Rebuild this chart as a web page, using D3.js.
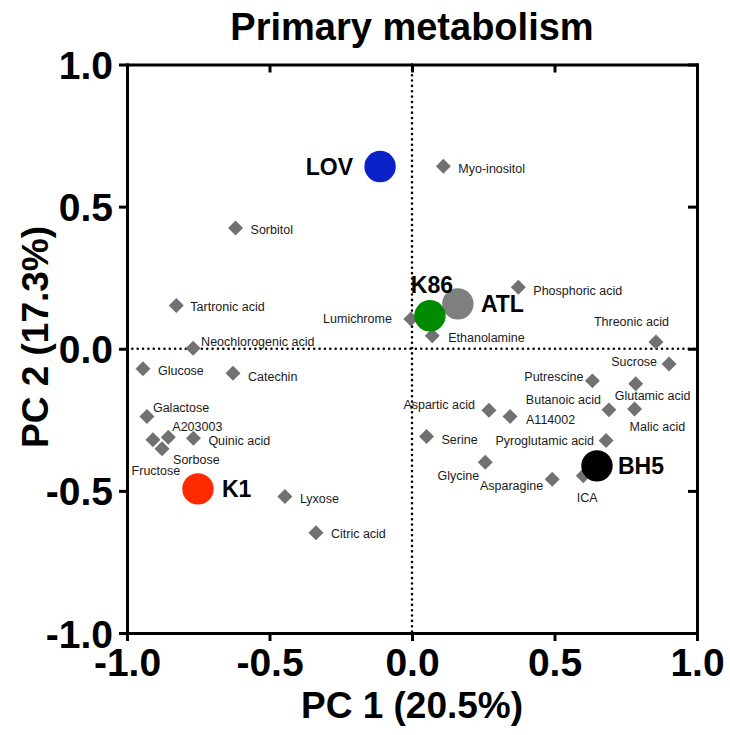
<!DOCTYPE html>
<html><head><meta charset="utf-8">
<script src="https://cdn.jsdelivr.net/npm/d3@7"></script>
<style>body{margin:0;background:#fff} svg{display:block}</style>
</head><body>
<script>
const titleText = "Primary metabolism";
const xAxisTitle = "PC 1 (20.5%)";
const yAxisTitle = "PC 2 (17.3%)";
const tickValues = [-1, -0.5, 0, 0.5, 1];
const tickLabels = ["-1.0", "-0.5", "0.0", "0.5", "1.0"];

const metaboliteNames = ["Myo-inositol","Sorbitol","Tartronic acid","Lumichrome","Ethanolamine","Neochlorogenic acid","Glucose","Catechin","Phosphoric acid","Threonic acid","Sucrose","Putrescine","Glutamic acid","Butanoic acid","Malic acid","Aspartic acid","A114002","Serine","Pyroglutamic acid","Glycine","Asparagine","ICA","Galactose","A203003","Fructose","Sorbose","Quinic acid","Lyxose","Citric acid"];
const metaboliteX = [0.110,-0.619,-0.827,-0.004,0.071,-0.768,-0.944,-0.628,0.373,0.856,0.902,0.633,0.785,0.691,0.781,0.270,0.344,0.051,0.681,0.257,0.492,0.601,-0.930,-0.855,-0.909,-0.877,-0.767,-0.446,-0.337];
const metaboliteY = [0.642,0.425,0.152,0.105,0.046,0.002,-0.070,-0.086,0.216,0.024,-0.054,-0.113,-0.123,-0.215,-0.212,-0.216,-0.238,-0.309,-0.323,-0.399,-0.459,-0.447,-0.238,-0.311,-0.320,-0.352,-0.315,-0.520,-0.647];

const sampleNames = ["LOV","ATL","K86","BH5","K1"];
const sampleX = [-0.112, 0.161, 0.063, 0.649, -0.751];
const sampleY = [0.641, 0.158, 0.116, -0.412, -0.493];
const sampleColors = ["#0A22C8", "#7f7f7f", "#008A00", "#000000", "#FF2A00"];

// label placement (layout only): [anchor, dx, dy]
const metaboliteLabelLayout = {
  "Myo-inositol":["start",15,2], "Sorbitol":["start",15,2], "Tartronic acid":["start",14,1],
  "Lumichrome":["end",-19,0], "Ethanolamine":["start",16,2], "Neochlorogenic acid":["start",8,-7],
  "Glucose":["start",15,2], "Catechin":["start",15,3], "Phosphoric acid":["start",15,3],
  "Threonic acid":["end",13,-20], "Sucrose":["end",-12,-3], "Putrescine":["end",-9,-4],
  "Glutamic acid":["start",-21,12], "Butanoic acid":["end",-8,-10], "Malic acid":["start",-5,17],
  "Aspartic acid":["end",-14,-6], "A114002":["start",16,3], "Serine":["start",15,3],
  "Pyroglutamic acid":["end",-12,0], "Glycine":["end",-6,13], "Asparagine":["end",-9,6],
  "ICA":["middle",4,22], "Galactose":["start",6,-9], "A203003":["start",4,-11],
  "Fructose":["middle",3,31], "Sorbose":["start",11,11], "Quinic acid":["start",15,2],
  "Lyxose":["start",15,2], "Citric acid":["start",15,1]
};
const sampleLabelLayout = {
  "LOV":["end",-27,0], "ATL":["start",23,0], "K86":["middle",2,-31],
  "BH5":["start",21,0], "K1":["start",24,0]
};

const W = 730, H = 735;
const svg = d3.select("body").append("svg").attr("width", W).attr("height", H);
const x = d3.scaleLinear().domain([-1, 1]).range([127, 697]);
const y = d3.scaleLinear().domain([-1, 1]).range([633, 64.5]);
const FONT = "'Liberation Sans', Arial, Helvetica, sans-serif";
const fmt = v => tickLabels[tickValues.indexOf(v)];

// zero lines (dotted)
svg.append("line").attr("x1", x(-1)).attr("x2", x(1)).attr("y1", y(0)).attr("y2", y(0))
  .attr("stroke", "#000").attr("stroke-width", 2.6).attr("stroke-linecap", "round").attr("stroke-dasharray", "0,5.35");
svg.append("line").attr("x1", x(0)).attr("x2", x(0)).attr("y1", y(1)).attr("y2", y(-1))
  .attr("stroke", "#000").attr("stroke-width", 2.6).attr("stroke-linecap", "round").attr("stroke-dasharray", "0,5.35");

function styleAxis(g, labels) {
  g.select(".domain").attr("stroke", "#000").attr("stroke-width", 3).attr("stroke-linecap", "square");
  g.selectAll(".tick line").attr("stroke", "#000").attr("stroke-width", 3);
  g.selectAll(".tick text").attr("fill", "#000").style("font-family", FONT).style("font-weight", "bold").style("font-size", "39px");
  if (!labels) g.selectAll(".tick text").remove();
}
const gx = svg.append("g").attr("transform", `translate(0,${y(-1)})`)
  .call(d3.axisBottom(x).tickValues(tickValues).tickFormat(fmt).tickSizeInner(8).tickSizeOuter(0).tickPadding(5));
styleAxis(gx, true);
gx.selectAll(".tick text").attr("dy", "0.78em");
const gy = svg.append("g").attr("transform", `translate(${x(-1)},0)`)
  .call(d3.axisLeft(y).tickValues(tickValues).tickFormat(fmt).tickSizeInner(8).tickSizeOuter(0).tickPadding(6));
styleAxis(gy, true);
gy.selectAll(".tick text").attr("dy", "0.36em");
const gt = svg.append("g").attr("transform", `translate(0,${y(1)})`)
  .call(d3.axisTop(x).tickValues(tickValues).tickSizeInner(-8).tickSizeOuter(0));
styleAxis(gt, false);
const gr = svg.append("g").attr("transform", `translate(${x(1)},0)`)
  .call(d3.axisRight(y).tickValues(tickValues).tickSizeInner(-9).tickSizeOuter(0));
styleAxis(gr, false);

// title and axis titles
svg.append("text").attr("x", 412).attr("y", 40).attr("text-anchor", "middle")
  .style("font-family", FONT).style("font-weight", "bold").style("font-size", "38px").text(titleText);
svg.append("text").attr("x", 412).attr("y", 718).attr("text-anchor", "middle")
  .style("font-family", FONT).style("font-weight", "bold").style("font-size", "37px").text(xAxisTitle);
svg.append("text").attr("transform", "translate(48,337) rotate(-90)").attr("text-anchor", "middle")
  .style("font-family", FONT).style("font-weight", "bold").style("font-size", "37px").text(yAxisTitle);

// metabolites
const mets = metaboliteNames.map((n, i) => ({name: n, x: metaboliteX[i], y: metaboliteY[i]}));
const diamond = d3.symbol().type(d3.symbolSquare).size(112);
svg.append("g").selectAll("path").data(mets).join("path")
  .attr("d", diamond)
  .attr("transform", d => `translate(${x(d.x)},${y(d.y)}) rotate(45)`)
  .attr("fill", "#717171");
svg.append("g").selectAll("text").data(mets).join("text")
  .attr("x", d => x(d.x) + metaboliteLabelLayout[d.name][1])
  .attr("y", d => y(d.y) + metaboliteLabelLayout[d.name][2])
  .attr("dy", "0.36em")
  .attr("text-anchor", d => metaboliteLabelLayout[d.name][0])
  .style("font-family", FONT).style("font-size", "12.5px").attr("fill", "#1a1a1a")
  .text(d => d.name);

// samples
const samples = sampleNames.map((n, i) => ({name: n, x: sampleX[i], y: sampleY[i], c: sampleColors[i]}));
svg.append("g").selectAll("circle").data(samples).join("circle")
  .attr("cx", d => x(d.x)).attr("cy", d => y(d.y)).attr("r", 15.7).attr("fill", d => d.c);
svg.append("g").selectAll("text").data(samples).join("text")
  .attr("x", d => x(d.x) + sampleLabelLayout[d.name][1])
  .attr("y", d => y(d.y) + sampleLabelLayout[d.name][2])
  .attr("dy", "0.36em")
  .attr("text-anchor", d => sampleLabelLayout[d.name][0])
  .style("font-family", FONT).style("font-weight", "bold").style("font-size", "23px").attr("fill", "#000")
  .text(d => d.name);
</script>
</body></html>
